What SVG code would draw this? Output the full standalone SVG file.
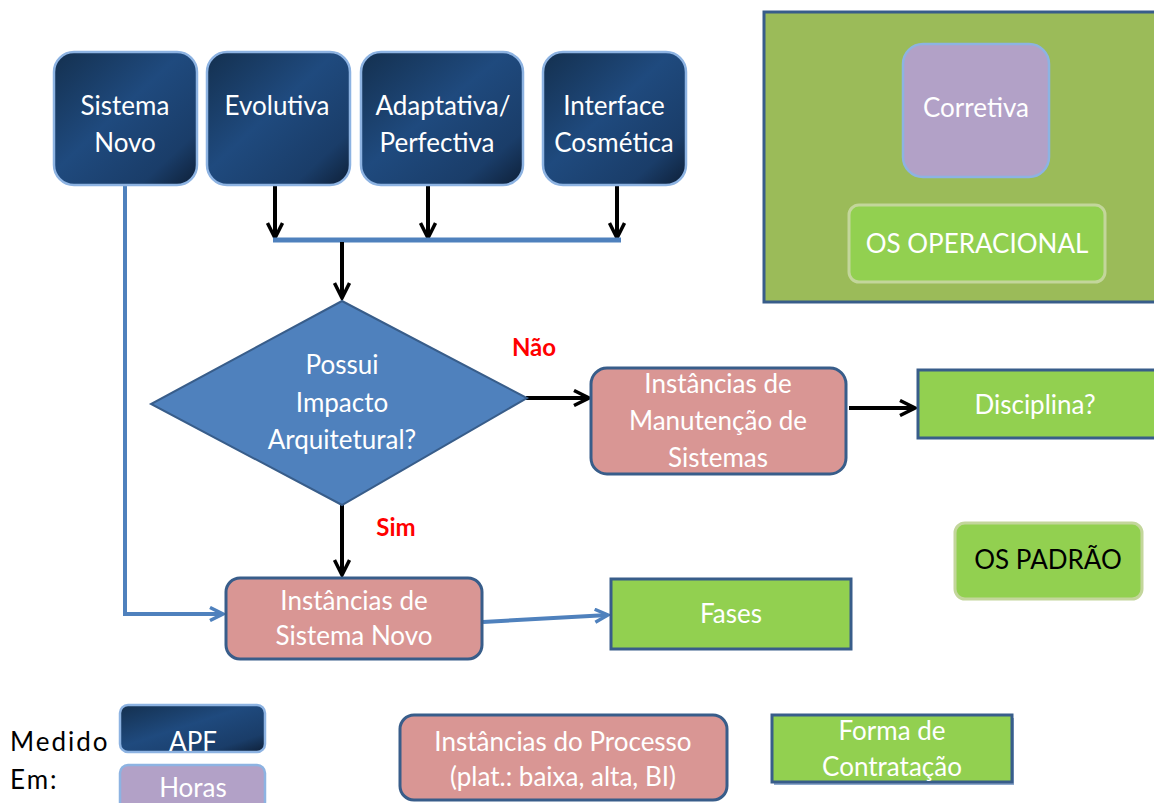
<svg xmlns="http://www.w3.org/2000/svg" width="1154" height="803" viewBox="0 0 1154 803">
<defs>
<linearGradient id="navy" x1="0" y1="0" x2="1" y2="1">
<stop offset="0" stop-color="#14304F"/>
<stop offset="0.45" stop-color="#1F4A7E"/>
<stop offset="0.8" stop-color="#1A3D69"/>
<stop offset="1" stop-color="#0E2038"/>
</linearGradient>
<marker id="ab" viewBox="0 0 18 18" refX="16" refY="9" markerWidth="18" markerHeight="18" markerUnits="userSpaceOnUse" orient="auto">
<path d="M1,1.5 L16,9 L1,16.5" fill="none" stroke="#000" stroke-width="3.5"/>
</marker>
<marker id="abl" viewBox="0 0 16 16" refX="14" refY="8" markerWidth="16" markerHeight="16" markerUnits="userSpaceOnUse" orient="auto">
<path d="M1,1.5 L14,8 L1,14.5" fill="none" stroke="#4F81BD" stroke-width="3.5"/>
</marker>
<style>
text{font-family:Lato,"Open Sans","Liberation Sans",sans-serif;text-anchor:middle}
.w{fill:#fff;font-size:26px}
.k{fill:#000;font-size:26px}
.red{fill:#FF0000;font-size:24px;font-weight:bold}
.navy{fill:url(#navy);stroke:#8DB3E2;stroke-width:2.5}
.purple{fill:#B2A1C7;stroke:#8DB3E2;stroke-width:2.5}
.pink{fill:#D99694;stroke:#385D8A;stroke-width:3}
.green{fill:#92D050;stroke:#385D8A;stroke-width:3}
.lgreen{fill:#92D050;stroke:#C3D69B;stroke-width:3}
.blk{stroke:#000;stroke-width:4;fill:none}
.blu{stroke:#4F81BD;stroke-width:4;fill:none}
</style>
</defs>

<g id="panel-operacional">
<rect x="764" y="12" width="394" height="290" fill="#9BBB59" stroke="#385D8A" stroke-width="3"/>
</g>
<g id="corretiva">
<rect class="purple" x="903" y="44" width="146" height="133" rx="20"/>
<text class="w" x="976" y="117">Corretiva</text>
</g>
<g id="os-operacional">
<rect class="lgreen" x="849" y="205" width="256" height="77" rx="10"/>
<text class="w" x="977" y="253">OS OPERACIONAL</text>
</g>

<g id="connectors">
<line class="blk" x1="275" y1="186" x2="275" y2="238" marker-end="url(#ab)"/>
<line class="blk" x1="428" y1="186" x2="428" y2="238" marker-end="url(#ab)"/>
<line class="blk" x1="617" y1="186" x2="617" y2="238" marker-end="url(#ab)"/>
<line x1="273" y1="240" x2="621" y2="240" stroke="#4F81BD" stroke-width="5"/>
<line class="blk" x1="342" y1="242" x2="342" y2="298" marker-end="url(#ab)"/>
<line class="blk" x1="526" y1="398" x2="589" y2="398" marker-end="url(#ab)"/>
<line class="blk" x1="849" y1="408" x2="915" y2="408" marker-end="url(#ab)"/>
<line class="blk" x1="342" y1="505" x2="342" y2="575" marker-end="url(#ab)"/>
<polyline class="blu" points="125,186 125,614 223,614" marker-end="url(#abl)"/>
<line class="blu" x1="483" y1="622" x2="608" y2="615" marker-end="url(#abl)"/>
<text class="red" x="534" y="356">Não</text>
<text class="red" x="396" y="536">Sim</text>
</g>

<g id="sistema-novo">
<rect class="navy" x="54" y="52" width="143" height="133" rx="20"/>
<text class="w" x="125" y="115">Sistema</text>
<text class="w" x="125" y="152">Novo</text>
</g>
<g id="evolutiva">
<rect class="navy" x="207" y="52" width="143" height="133" rx="20"/>
<text class="w" x="277" y="115">Evolutiva</text>
</g>
<g id="adaptativa">
<rect class="navy" x="361" y="52" width="162" height="133" rx="20"/>
<text class="w" x="443" y="115">Adaptativa/</text>
<text class="w" x="437" y="152">Perfectiva</text>
</g>
<g id="interface">
<rect class="navy" x="543" y="52" width="143" height="133" rx="20"/>
<text class="w" x="614" y="115">Interface</text>
<text class="w" x="614" y="152">Cosmética</text>
</g>

<g id="decisao">
<polygon points="342,301 527,398 342,505 151,404" fill="#4F81BD" stroke="#385D8A" stroke-width="2"/>
<text class="w" x="342" y="374">Possui</text>
<text class="w" x="342" y="412">Impacto</text>
<text class="w" x="342" y="449">Arquitetural?</text>
</g>

<g id="manutencao">
<rect class="pink" x="591" y="368" width="255" height="106" rx="16"/>
<text class="w" x="718" y="393">Instâncias de</text>
<text class="w" x="718" y="430">Manutenção de</text>
<text class="w" x="718" y="467">Sistemas</text>
</g>
<g id="disciplina">
<rect class="green" x="918" y="370" width="240" height="68"/>
<text class="w" x="1035" y="414">Disciplina?</text>
</g>

<g id="inst-sistema-novo">
<rect class="pink" x="226" y="578" width="256" height="81" rx="14"/>
<text class="w" x="354" y="610">Instâncias de</text>
<text class="w" x="354" y="645">Sistema Novo</text>
</g>
<g id="fases">
<rect class="green" x="611" y="579" width="240" height="70"/>
<text class="w" x="731" y="623">Fases</text>
</g>

<g id="os-padrao">
<rect class="lgreen" x="955" y="523" width="187" height="76" rx="10"/>
<text class="k" x="1048" y="569">OS PADRÃO</text>
</g>

<g id="legenda-medido">
<text class="k" x="10" y="751" style="text-anchor:start;letter-spacing:2px">Medido</text>
<text class="k" x="10" y="789" style="text-anchor:start;letter-spacing:2px">Em:</text>
</g>
<g id="apf">
<rect class="navy" x="120" y="705" width="145" height="47" rx="8"/>
<text class="w" x="193" y="751">APF</text>
</g>
<g id="horas">
<rect class="purple" x="120" y="765" width="145" height="45" rx="8"/>
<text class="w" x="193" y="797">Horas</text>
</g>
<g id="inst-processo">
<rect class="pink" x="400" y="715" width="327" height="85" rx="14"/>
<text class="w" x="563" y="751">Instâncias do Processo</text>
<text class="w" x="563" y="786">(plat.: baixa, alta, BI)</text>
</g>
<g id="forma-contratacao">
<rect x="774" y="718" width="240" height="67" fill="#8EA9CC"/>
<rect class="green" x="772" y="715" width="240" height="67"/>
<text class="w" x="892" y="740">Forma de</text>
<text class="w" x="892" y="776">Contratação</text>
</g>
</svg>
